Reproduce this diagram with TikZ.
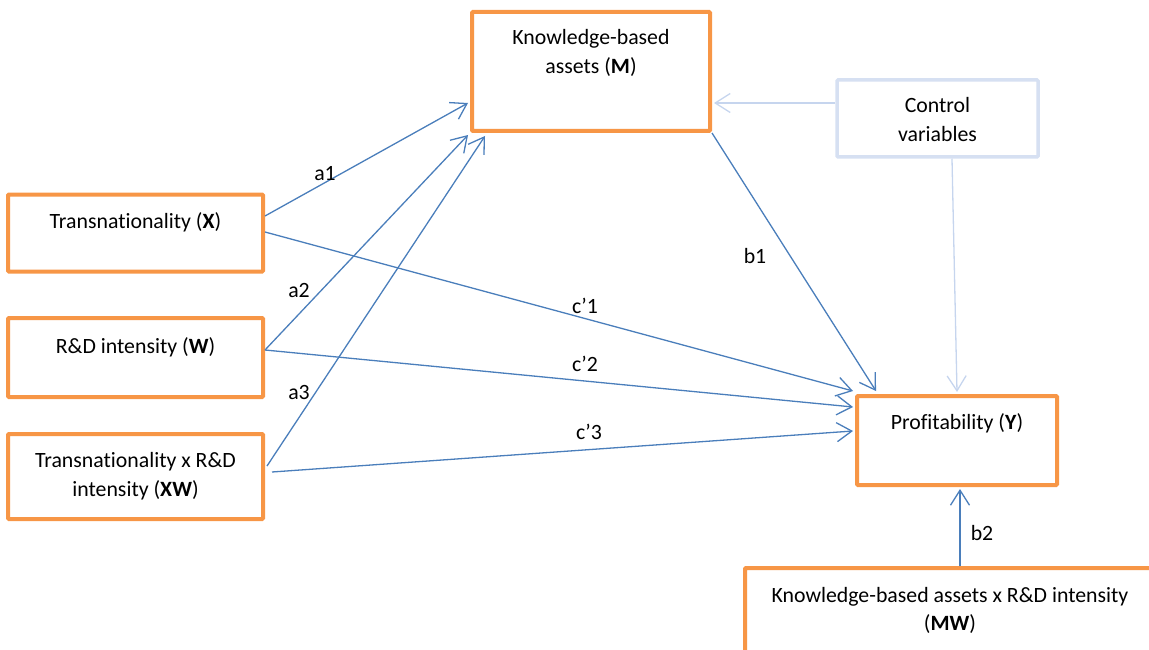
\documentclass[tikz,border=0pt]{standalone}
\usepackage{fontspec}
\setmainfont{Carlito}[Ligatures={NoCommon,TeX}]
\usetikzlibrary{arrows.meta}
\definecolor{orangeC}{RGB}{247,150,70}
\definecolor{blueC}{RGB}{74,126,187}
\definecolor{paleBox}{RGB}{214,224,242}
\definecolor{paleArr}{RGB}{198,213,238}
\tikzset{
  obox/.style={draw=orangeC, line width=4pt, rounded corners=1pt, inner sep=0pt, fill=white},
  lbox/.style={draw=paleBox, line width=3.5pt, rounded corners=1pt, inner sep=0pt, fill=white},
  txt/.style={anchor=base, inner sep=0pt, font=\fontsize{21.8}{29.5}\selectfont},
  lab/.style={anchor=base, inner sep=0pt, font=\fontsize{21.8}{29.5}\selectfont},
  conn/.style={draw=blueC, line width=1.3pt, -{Straight Barb[length=15pt,width=19pt]}},
  pconn/.style={draw=paleArr, line width=1.3pt, -{Straight Barb[length=15pt,width=19pt]}}
}
\begin{document}
\begin{tikzpicture}[x=1pt,y=-1pt]
\useasboundingbox (0,0) rectangle (1149,650);
\clip (0,0) rectangle (1149,650);
% boxes
\node[obox, minimum width=255pt, minimum height=77pt] (X) at (135.5,233) {};
\node[obox, minimum width=255pt, minimum height=79pt] (W) at (135.5,357.5) {};
\node[obox, minimum width=255pt, minimum height=85pt] (XW) at (135.5,476.5) {};
\node[obox, minimum width=238pt, minimum height=119pt] (M) at (591,71.5) {};
\node[lbox, minimum width=201pt, minimum height=77pt] (C) at (937.5,118.5) {};
\node[obox, minimum width=200pt, minimum height=89pt] (Y) at (957,440.5) {};
\node[obox, minimum width=420pt, minimum height=84pt] (MW) at (955,610) {};
% texts
\node[txt] (tX) at (135.5,228) {Transnationality (\textbf{X})};
\node[txt] (tW) at (135.5,353) {R\&D intensity (\textbf{W})};
\node[txt] (tXW1) at (135.5,467) {Transnationality x R\&D};
\node[txt] (tXW2) at (135.5,496) {intensity (\textbf{XW})};
\node[txt] (tM1) at (591,45) {Knowledge-based};
\node[txt] (tM2) at (591,74) {assets (\textbf{M})};
\node[txt] (tC1) at (937.5,113) {Control};
\node[txt] (tC2) at (937.5,142) {variables};
\node[txt] (tY) at (957,429) {Profitability (\textbf{Y})};
\node[txt] (tMW1) at (950,602) {Knowledge-based assets x R\&D intensity};
\node[txt] (tMW2) at (950,630) {(\textbf{MW})};
% coordinates
\coordinate (cm) at ([yshift=15.5pt]C.west);
\coordinate (cmEnd) at ([xshift=2pt]cm -| M.east);
% connectors
\draw[conn] ([yshift=17pt]X.east) -- ([xshift=-2pt,yshift=-31.5pt]M.west);
\draw[conn] ([yshift=1pt]X.east) -- ([xshift=-2pt,yshift=3pt]Y.north west);
\draw[conn] (M.south east) -- ([xshift=21pt,yshift=3pt]Y.north west);
\draw[conn] ([yshift=7.5pt]W.east) -- ([xshift=-2pt,yshift=-2pt]M.south west);
\draw[conn] ([yshift=7.5pt]W.east) -- ([xshift=-2pt,yshift=33.5pt]Y.west);
\draw[conn] ([xshift=2pt,yshift=10.5pt]XW.east) -- ([xshift=15pt,yshift=-3pt]M.south west);
\draw[conn] ([xshift=7pt,yshift=4.5pt]XW.east) -- ([xshift=-2pt,yshift=9.5pt]Y.west);
\draw[pconn] (cm) -- (cmEnd);
\draw[pconn] ([xshift=14.5pt]C.south) -- ([yshift=2pt]Y.north);
\draw[conn] ([xshift=5pt]MW.north) -- ([xshift=3pt,yshift=-2pt]Y.south);
% labels
\node[lab] (la1) at (325,181) {a1};
\node[lab] (la2) at (299,297) {a2};
\node[lab] (la3) at (299,399) {a3};
\node[lab] (lb1) at (755,263) {b1};
\node[lab] (lc1) at (585,313) {c’1};
\node[lab] (lc2) at (585,371) {c’2};
\node[lab] (lc3) at (589,439) {c’3};
\node[lab] (lb2) at (982,540) {b2};
\end{tikzpicture}
\end{document}
